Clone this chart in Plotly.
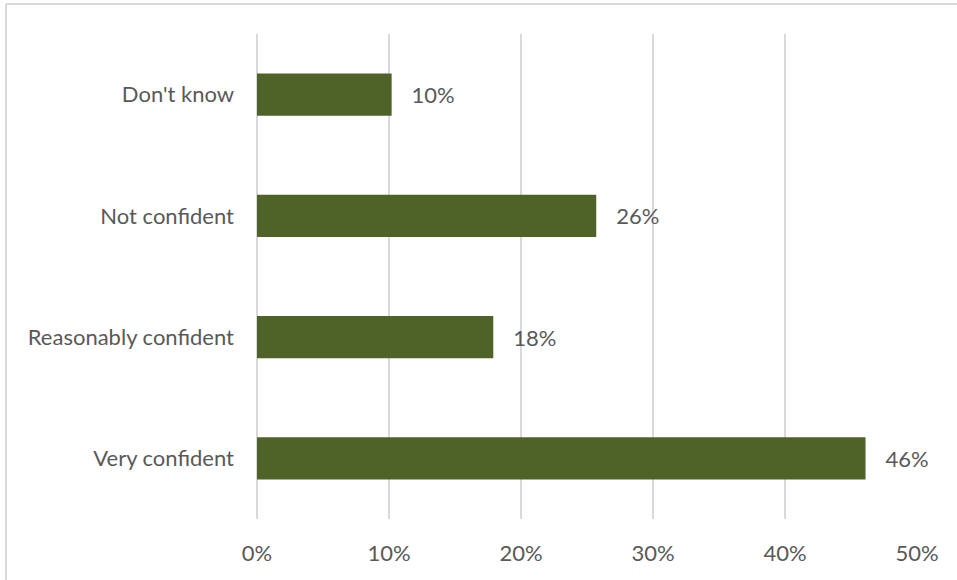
import plotly.graph_objects as go

# Survey responses: share of respondents per confidence level
categories = ["Very confident", "Reasonably confident", "Not confident", "Don't know"]
shares = [0.461, 0.179, 0.257, 0.102]
tick_values = [0, 0.1, 0.2, 0.3, 0.4, 0.5]
tick_labels = ["0%", "10%", "20%", "30%", "40%", "50%"]

BAR_COLOR = "#4F6228"
TEXT_COLOR = "#595959"
GRID_COLOR = "#D9D9D9"
FONT = "Lato, Open Sans, sans-serif"
FSIZE = 22

W, H = 957, 580
L, R, T, B = 257, 40, 34, 61
plot_w = W - L - R
plot_h = H - T - B

fig = go.Figure(
    go.Bar(
        x=shares,
        y=categories,
        orientation="h",
        marker=dict(color=BAR_COLOR, line=dict(width=0)),
        text=["   " + f"{v:.0%}" for v in shares],
        textposition="outside",
        textfont=dict(family=FONT, size=FSIZE, color=TEXT_COLOR),
        cliponaxis=False,
        hoverinfo="skip",
    )
)

# Frame around the chart area (top and left edges)
border = dict(color="#D9D9D9", width=2)
fig.add_shape(type="line", xref="paper", yref="paper",
              x0=-(L - 6) / plot_w, x1=(W - L) / plot_w,
              y0=1 + (T - 4) / plot_h, y1=1 + (T - 4) / plot_h, line=border)
fig.add_shape(type="line", xref="paper", yref="paper",
              x0=-(L - 6) / plot_w, x1=-(L - 6) / plot_w,
              y0=-B / plot_h, y1=1 + (T - 4) / plot_h, line=border)

fig.update_layout(
    width=W,
    height=H,
    margin=dict(l=L, r=R, t=T, b=B),
    paper_bgcolor="white",
    plot_bgcolor="white",
    bargap=0.65,
    showlegend=False,
    uniformtext=dict(mode=False),
    font=dict(family=FONT, size=FSIZE, color=TEXT_COLOR),
    xaxis=dict(
        range=[0, 0.5],
        tickvals=tick_values,
        ticktext=tick_labels,
        showgrid=True,
        gridcolor=GRID_COLOR,
        gridwidth=2,
        zeroline=True,
        zerolinecolor=GRID_COLOR,
        zerolinewidth=2,
        showline=False,
        ticks="",
        ticklabelstandoff=19,
        tickfont=dict(family=FONT, size=FSIZE, color=TEXT_COLOR),
        fixedrange=True,
    ),
    yaxis=dict(
        categoryorder="array",
        categoryarray=categories,
        showgrid=False,
        zeroline=False,
        showline=False,
        ticks="",
        ticklabelstandoff=22,
        tickfont=dict(family=FONT, size=FSIZE, color=TEXT_COLOR),
        fixedrange=True,
    ),
)

fig.write_html("out.html")
